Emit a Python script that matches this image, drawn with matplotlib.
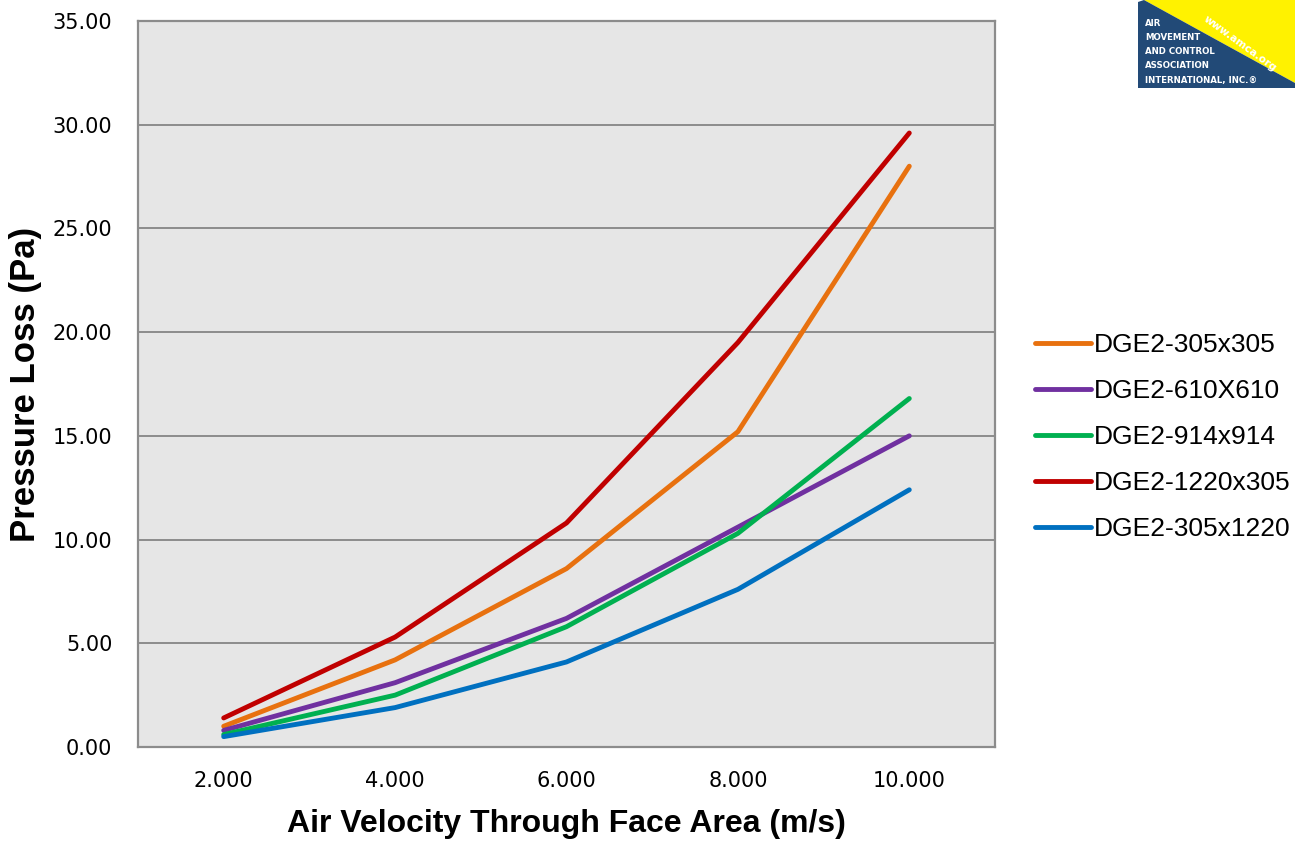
import matplotlib.pyplot as plt
from matplotlib.patches import Polygon

# datos del gráfico
velocidades = ["2.000", "4.000", "6.000", "8.000", "10.000"]
series = ["DGE2-305x305", "DGE2-610X610", "DGE2-914x914", "DGE2-1220x305", "DGE2-305x1220"]
dge_305x305 = [1.0, 4.2, 8.6, 15.2, 28.0]
dge_610x610 = [0.8, 3.1, 6.2, 10.6, 15.0]
dge_914x914 = [0.6, 2.5, 5.8, 10.3, 16.8]
dge_1220x305 = [1.4, 5.3, 10.8, 19.5, 29.6]
dge_305x1220 = [0.5, 1.9, 4.1, 7.6, 12.4]
valores = [dge_305x305, dge_610x610, dge_914x914, dge_1220x305, dge_305x1220]
colores = ["#e8710f", "#7030a0", "#00b050", "#c00000", "#0070c0"]
y_ticks = [0, 5, 10, 15, 20, 25, 30, 35]

fig = plt.figure(figsize=(13.05, 8.44), dpi=100)
ax = fig.add_axes([138 / 1305, 97 / 844, 857 / 1305, 726 / 844])
ax.set_facecolor("#e6e6e6")

x = list(range(len(velocidades)))
lineas = []
for nombre, vals, c in zip(series, valores, colores):
    l, = ax.plot(x, vals, color=c, lw=3.5, solid_capstyle="round",
                 solid_joinstyle="round", label=nombre, zorder=3)
    lineas.append(l)

ax.set_xlim(-0.5, 4.5)
ax.set_ylim(0, 35)
ax.set_xticks(x)
ax.set_xticklabels(velocidades)
ax.set_yticks(y_ticks)
ax.set_yticklabels([f"{v:.2f}" for v in y_ticks])
ax.tick_params(length=0, labelsize=15)
ax.tick_params(axis="x", pad=17)
ax.tick_params(axis="y", pad=18.5)
ax.grid(axis="y", color="#8c8c8c", lw=1.4, zorder=1)
ax.set_axisbelow(True)
for s in ax.spines.values():
    s.set_color("#8c8c8c")
    s.set_linewidth(1.6)

ax.set_xlabel("Air Velocity Through Face Area (m/s)", family="Liberation Sans",
              fontsize=23, fontweight="bold", labelpad=13)
ax.set_ylabel("Pressure Loss (Pa)", family="Liberation Sans",
              fontsize=25, fontweight="bold", labelpad=8)

fig.legend(handles=lineas, loc="upper left", bbox_to_anchor=(1022 / 1305, 1 - 320 / 844),
           frameon=False, prop={"family": "Liberation Sans", "size": 19},
           handlelength=2.1, handletextpad=0.12, labelspacing=0.83, borderpad=0)

# ---------- logo AMCA ----------
lg = fig.add_axes([1138 / 1305, 1 - 88 / 844, 157 / 1305, 88 / 844])
lg.set_xlim(0, 157)
lg.set_ylim(88, 0)
lg.axis("off")
lg.add_patch(Polygon([(6, 0), (157, 0), (157, 83)], closed=True, color="#fff200", lw=0))
lg.add_patch(Polygon([(0, 2), (6, 0), (157, 83), (157, 88), (0, 88)], closed=True,
                     color="#224a77", lw=0))
lineas_logo = ["AIR", "MOVEMENT", "AND CONTROL", "ASSOCIATION", "INTERNATIONAL, INC.\u00ae"]
for i, t in enumerate(lineas_logo):
    lg.text(7, 24 + i * 14, t, color="white", fontsize=6.2, fontweight="bold",
            va="center", ha="left")
lg.text(102, 44, "www.amca.org", color="white", fontsize=7.5, fontweight="bold",
        rotation=-36, ha="center", va="center", rotation_mode="anchor")

fig.savefig("out.png", dpi=100)
